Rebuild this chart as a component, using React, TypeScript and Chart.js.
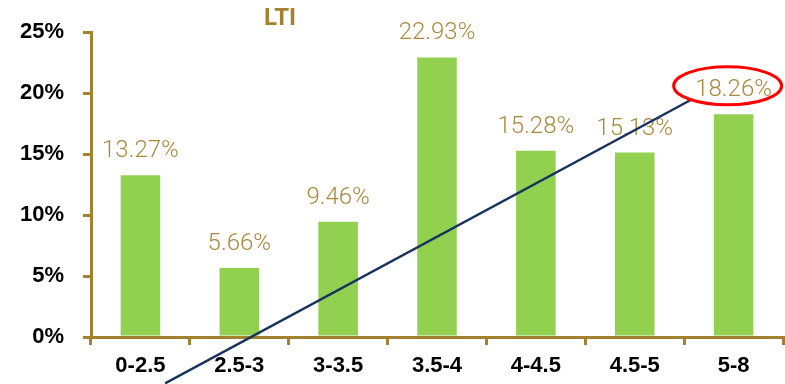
import React, { useEffect, useRef } from "react";
import { Chart, registerables } from "chart.js";

Chart.register(...registerables);

const categories = ["0-2.5", "2.5-3", "3-3.5", "3.5-4", "4-4.5", "4.5-5", "5-8"];
const shares = [13.27, 5.66, 9.46, 22.93, 15.28, 15.13, 18.26];
const yTicks = [0, 5, 10, 15, 20, 25];
const chartTitle = "LTI";

// annotation in data coordinates (category index, percent)
const trendStart = { x: 0.25, y: -3.8 };
const trendEnd = { x: 5.58, y: 19.5 };
const highlightCenter = { x: 5.94, y: 20.6 };

const GOLD = "#A3812F";
const LABEL_GOLD = "#A88A3E";
const GREEN = "#92D050";
const NAVY = "#17325C";

const overlayPlugin = {
  id: "overlay",
  afterDatasetsDraw(chart: any) {
    const ctx = chart.ctx;
    const xs = chart.scales.x;
    const ys = chart.scales.y;
    const meta = chart.getDatasetMeta(0);
    ctx.save();
    // value labels
    ctx.fillStyle = LABEL_GOLD;
    ctx.font = "300 24px Roboto";
    ctx.textAlign = "center";
    ctx.textBaseline = "alphabetic";
    meta.data.forEach((bar: any, i: number) => {
      ctx.fillText(shares[i].toFixed(2) + "%", bar.x, bar.y - 18);
    });
    // trend line
    ctx.strokeStyle = NAVY;
    ctx.lineWidth = 2.5;
    ctx.beginPath();
    ctx.moveTo(xs.getPixelForValue(trendStart.x), ys.getPixelForValue(trendStart.y));
    ctx.lineTo(xs.getPixelForValue(trendEnd.x), ys.getPixelForValue(trendEnd.y));
    ctx.stroke();
    // highlight ellipse
    ctx.strokeStyle = "#FF0000";
    ctx.lineWidth = 3;
    ctx.beginPath();
    ctx.ellipse(
      xs.getPixelForValue(highlightCenter.x),
      ys.getPixelForValue(highlightCenter.y),
      54,
      19,
      0,
      0,
      Math.PI * 2
    );
    ctx.stroke();
    // title
    ctx.fillStyle = GOLD;
    ctx.font = "bold 24px Roboto";
    ctx.textAlign = "center";
    ctx.textBaseline = "middle";
    ctx.fillText(chartTitle, chart.chartArea.left + 189, 19);
    ctx.restore();
  },
};

export default function App() {
  const ref = useRef<HTMLCanvasElement>(null);
  useEffect(() => {
    if (!ref.current) return;
    const chart = new Chart(ref.current, {
      type: "bar",
      data: {
        labels: categories,
        datasets: [
          {
            data: shares,
            backgroundColor: GREEN,
            categoryPercentage: 1,
            barPercentage: 0.4,
          },
        ],
      },
      options: {
        animation: false,
        responsive: true,
        maintainAspectRatio: false,
        layout: { padding: { top: 29, right: 2, left: 0, bottom: 0 } },
        plugins: { legend: { display: false }, tooltip: { enabled: false } },
        scales: {
          x: {
            grid: {
              drawOnChartArea: false,
              color: GOLD,
              lineWidth: 3,
              tickLength: 8,
            },
            border: { color: GOLD, width: 3 },
            ticks: {
              color: "#000",
              font: { family: "'Liberation Sans', Arial", size: 22, weight: "bold" },
              padding: 8,
            },
            afterFit: (s: any) => {
              s.height = 47;
            },
          },
          y: {
            min: 0,
            max: 25,
            afterBuildTicks: (s: any) => {
              s.ticks = yTicks.map((v) => ({ value: v }));
            },
            grid: {
              drawOnChartArea: false,
              color: GOLD,
              lineWidth: 3,
              tickLength: 8,
            },
            border: { color: GOLD, width: 3 },
            ticks: {
              color: "#000",
              font: { family: "'Liberation Sans', Arial", size: 22, weight: "bold" },
              padding: 19,
              callback: (v: any) => v + "%",
            },
            afterFit: (s: any) => {
              s.width = 91;
            },
          },
        },
      },
      plugins: [overlayPlugin],
    });
    return () => chart.destroy();
  }, []);
  return (
    <div style={{ position: "absolute", left: 0, top: 0, width: 785, height: 384, background: "#fff" }}>
      <canvas ref={ref} />
    </div>
  );
}
